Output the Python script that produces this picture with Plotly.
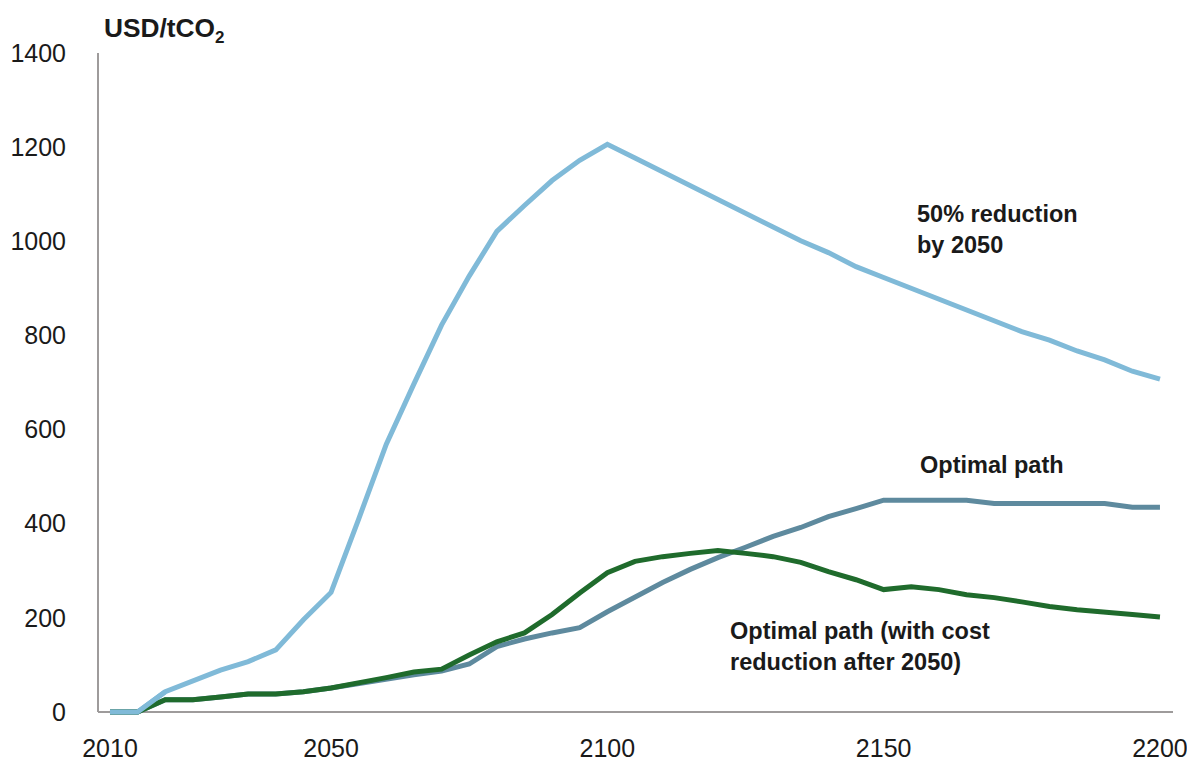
import plotly.graph_objects as go

years = list(range(2010, 2201, 5))

reduction_50 = [0, 0, 43, 66, 89, 107, 132, 196, 254, 410, 569, 697, 822, 926, 1021, 1076, 1129, 1172, 1206,
                1177, 1148, 1118, 1089, 1060, 1030, 1001, 976, 946, 923, 900, 878, 855, 831, 808, 790, 767, 748, 724, 707]

optimal = [0, 0, 26, 26, 32, 38, 38, 43, 51, 61, 71, 79, 87, 102, 139, 155, 168, 179, 213,
           245, 275, 303, 328, 350, 373, 392, 415, 432, 450, 450, 450, 450, 443, 443, 443, 443, 443, 435, 435]

optimal_cost = [0, 0, 26, 26, 32, 38, 38, 43, 51, 61, 73, 85, 91, 121, 149, 168, 207, 253, 296,
                320, 330, 337, 343, 337, 330, 318, 298, 281, 260, 266, 260, 249, 243, 234, 224, 217, 211, 207, 202]

C_LIGHT = "#80BAD8"
C_STEEL = "#5E8A9E"
C_GREEN = "#1F6B2C"
AXIS = "#9E9B9B"
TXT = "#1A1A1A"
FONT = "Liberation Sans"
LW = 5

fig = go.Figure()
fig.add_trace(go.Scatter(x=years, y=reduction_50, mode="lines",
                         line=dict(color=C_LIGHT, width=LW), name="50% reduction by 2050"))
fig.add_trace(go.Scatter(x=years, y=optimal, mode="lines",
                         line=dict(color=C_STEEL, width=LW), name="Optimal path"))
fig.add_trace(go.Scatter(x=years, y=optimal_cost, mode="lines",
                         line=dict(color=C_GREEN, width=LW), name="Optimal path (with cost reduction after 2050)"))
# light-blue start drawn on top (covers the flat zero segment)
fig.add_trace(go.Scatter(x=years[:3], y=reduction_50[:3], mode="lines",
                         line=dict(color=C_LIGHT, width=LW), showlegend=False, hoverinfo="skip"))

fig.update_layout(
    width=1187, height=753,
    margin=dict(l=90, r=22, t=45, b=45),
    plot_bgcolor="white", paper_bgcolor="white",
    showlegend=False,
    font=dict(family=FONT, size=25, color=TXT),
    xaxis=dict(range=[2007.83, 2202.36], tickvals=[2010, 2050, 2100, 2150, 2200],
               showgrid=False, zeroline=False, showline=False, automargin=False,
               ticks="outside", ticklen=10, tickcolor="rgba(0,0,0,0)",
               tickfont=dict(family=FONT, size=25, color=TXT)),
    yaxis=dict(range=[-8.5, 1400], tickvals=[0, 200, 400, 600, 800, 1000, 1200, 1400],
               showgrid=False, zeroline=False, showline=False, automargin=False,
               ticks="outside", ticklen=26, tickcolor="rgba(0,0,0,0)",
               tickfont=dict(family=FONT, size=25, color=TXT)),
    shapes=[
        dict(type="line", xref="paper", yref="y", x0=0, x1=1, y0=0, y1=0,
             line=dict(color=AXIS, width=2), layer="below"),
        dict(type="line", xref="paper", yref="y", x0=0, x1=0, y0=0, y1=1400,
             line=dict(color=AXIS, width=2), layer="below"),
    ],
    annotations=[
        dict(text="<b>USD/tCO<sub><span style='font-size:17px'>2</span></sub></b>", xref="paper", yref="paper",
             x=0.0037, y=1.0347, xanchor="left", yanchor="middle", showarrow=False,
             font=dict(family=FONT, size=26.3, color=TXT)),
        dict(text="<b>50% reduction<br>by 2050</b>", x=2155.7, y=1024, xanchor="left", yanchor="middle",
             align="left", showarrow=False, font=dict(family=FONT, size=23.5, color=TXT)),
        dict(text="<b>Optimal path</b>", x=2156.2, y=525, xanchor="left", yanchor="middle",
             align="left", showarrow=False, font=dict(family=FONT, size=23.5, color=TXT)),
        dict(text="<b>Optimal path (with cost<br>reduction after 2050)</b>", x=2121.8, y=140,
             xanchor="left", yanchor="middle", align="left", showarrow=False,
             font=dict(family=FONT, size=23.5, color=TXT)),
    ],
)

fig.write_html("out.html")
